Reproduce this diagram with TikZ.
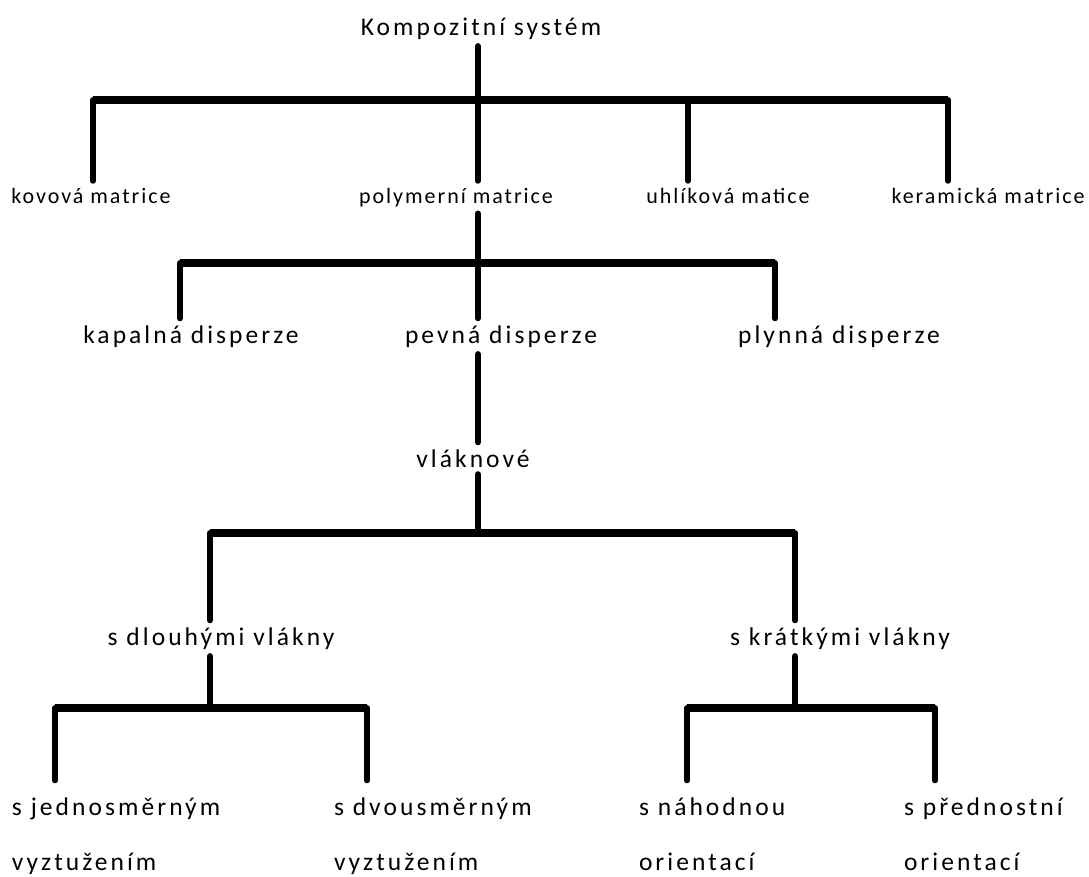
\documentclass[tikz,border=0pt]{standalone}
\usepackage{fontspec}
\setmainfont{Carlito}[LetterSpace=12]
\newfontfamily\labfont{Carlito}[LetterSpace=9]
\begin{document}
\begin{tikzpicture}[x=1pt,y=-1pt,
    big/.style={font=\fontsize{25.5}{30}\selectfont, inner sep=2pt, outer sep=5pt, anchor=base},
    small/.style={font=\labfont\fontsize{22}{26}\selectfont, inner sep=2pt, outer sep=5pt, anchor=base},
    twoline/.style={font=\fontsize{25.5}{55}\selectfont, align=left, inner sep=2pt, outer sep=5pt, anchor=base west},
    vline/.style={line width=6pt, line cap=round},
    hbar/.style={line width=8pt}]
    \useasboundingbox (0,0) rectangle (1089,876);
    % uzly
    \node[big] (system) at (481,35) {Kompozitní systém};
    \node[small] (kovova) at (91,203) {kovová matrice};
    \node[small] (polymer) at (456,203) {polymerní matrice};
    \node[small] (uhlik) at (728,203) {uhlíková matice};
    \node[small] (keram) at (988,203) {keramická matrice};
    \node[big] (kapal) at (191,343) {kapalná disperze};
    \node[big] (pevna) at (501,343) {pevná disperze};
    \node[big] (plyn) at (839,343) {plynná disperze};
    \node[big] (vlakn) at (473,467) {vláknové};
    \node[big] (dlouhe) at (221,645) {s dlouhými vlákny};
    \node[big] (kratke) at (840,645) {s krátkými vlákny};
    % posledni radek: base = spodni radek
    \node[twoline] (jedno) at (5,870) {s jednosměrným\\vyztužením};
    \node[twoline] (dvou) at (327,870) {s dvousměrným\\vyztužením};
    \node[twoline] (nahod) at (632,870) {s náhodnou\\orientací};
    \node[twoline] (predn) at (897,870) {s přednostní\\orientací};
    % vetveni
    \coordinate (a1) at (93,100);  \coordinate (a2) at (478,100);
    \coordinate (a3) at (688,100); \coordinate (a4) at (948,100);
    \coordinate (b1) at (180,263); \coordinate (b2) at (478,263); \coordinate (b3) at (775,263);
    \coordinate (c1) at (210,533); \coordinate (c2) at (478,533); \coordinate (c3) at (795,533);
    \coordinate (d1) at (55,708);  \coordinate (d2) at (210,708); \coordinate (d3) at (367,708);
    \coordinate (e1) at (687,708); \coordinate (e2) at (795,708); \coordinate (e3) at (935,708);
    \draw[hbar] (a1) -- (a4);
    \draw[hbar] (b1) -- (b3);
    \draw[hbar] (c1) -- (c3);
    \draw[hbar] (d1) -- (d3);
    \draw[hbar] (e1) -- (e3);
    \draw[vline] (system.south -| a2) -- (a2);
    \foreach \c/\n in {a1/kovova, a2/polymer, a3/uhlik, a4/keram}
        \draw[vline] (\c) -- (\c |- \n.north);
    \draw[vline] (polymer.south -| b2) -- (b2);
    \foreach \c/\n in {b1/kapal, b2/pevna, b3/plyn}
        \draw[vline] (\c) -- (\c |- \n.north);
    \draw[vline] (pevna.south -| b2) -- (b2 |- vlakn.north);
    \draw[vline] (vlakn.south -| c2) -- (c2);
    \draw[vline] (c1) -- (c1 |- dlouhe.north);
    \draw[vline] (c3) -- (c3 |- kratke.north);
    \draw[vline] (dlouhe.south -| d2) -- (d2);
    \draw[vline] (kratke.south -| e2) -- (e2);
    \foreach \c/\n in {d1/jedno, d3/dvou, e1/nahod, e3/predn}
        \draw[vline, shorten >=10pt] (\c) -- (\c |- \n.north);
\end{tikzpicture}
\end{document}
